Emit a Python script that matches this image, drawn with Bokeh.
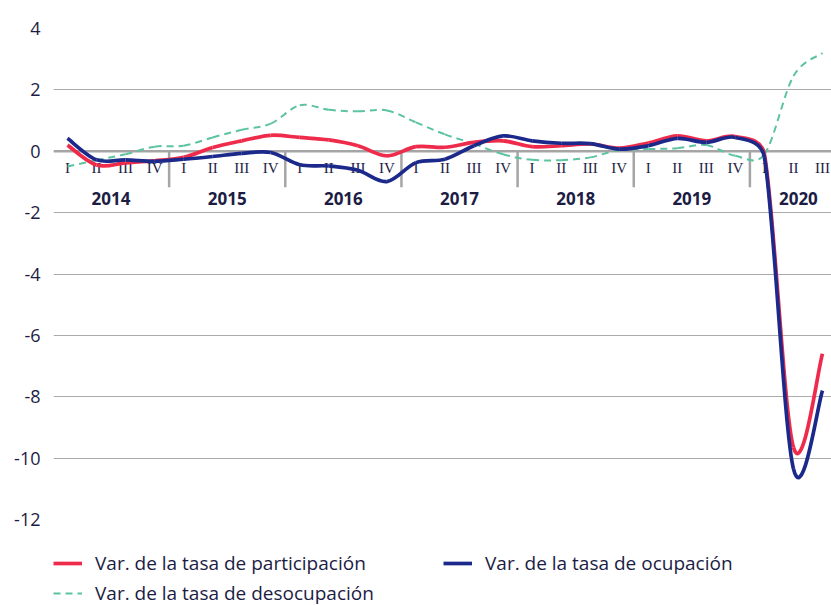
import math
from bokeh.plotting import figure
from bokeh.models import Range1d, FixedTicker, Span, Legend, LegendItem
from bokeh.core.properties import value
from bokeh.embed import file_html
from bokeh.resources import INLINE

# ---------------- data ----------------
years = ["2014", "2015", "2016", "2017", "2018", "2019", "2020"]
quarters = ["I", "II", "III", "IV"] * 6 + ["I", "II", "III"]
participacion = [0.2, -0.45, -0.38, -0.31, -0.2, 0.12, 0.34, 0.52, 0.45, 0.37, 0.18, -0.15,
                 0.15, 0.13, 0.29, 0.34, 0.15, 0.18, 0.24, 0.1, 0.27, 0.5, 0.34, 0.48,
                 -0.1, -9.65, -6.6]
ocupacion = [0.42, -0.28, -0.28, -0.33, -0.26, -0.17, -0.07, -0.04, -0.44, -0.48, -0.62, -0.99,
             -0.37, -0.26, 0.18, 0.5, 0.34, 0.26, 0.25, 0.07, 0.18, 0.42, 0.29, 0.45,
             -0.2, -10.35, -7.8]
desocupacion = [-0.5, -0.29, -0.1, 0.15, 0.18, 0.45, 0.7, 0.9, 1.5, 1.35, 1.3, 1.33,
                0.94, 0.55, 0.24, -0.1, -0.28, -0.29, -0.2, 0.04, 0.07, 0.1, 0.2, -0.15,
                -0.1, 2.45, 3.2]
y_ticks = [-12, -10, -8, -6, -4, -2, 0, 2, 4]
y_tick_labels = ["-12", "-10", "-8", "-6", "-4", "-2", "0", "2", "4"]

labels = ["Var. de la tasa de participación", "Var. de la tasa de ocupación",
          "Var. de la tasa de desocupación"]

# ---------------- styles ----------------
RED = "#EF2B4C"
BLUE = "#1B2A8A"
GREEN = "#5CC3A0"
TXT = "#1C1C44"
GRID = "#ABABAB"
AXISGRAY = "#A5A5A5"

X0, X1 = -0.482, 26.31
SX, SY = 29.04, 30.7   # approx. pixels per data unit (used only to shape the smoothing)

n = len(quarters)
xs = list(range(n))


def smooth_segments(vals):
    """Cubic Bezier segments through the data points (Excel-like smoothed line)."""
    P = [(xs[i] * SX, vals[i] * SY) for i in range(n)]
    Pe = [P[0]] + P + [P[-1]]
    T = [((Pe[i + 2][0] - Pe[i][0]) / 6.0, (Pe[i + 2][1] - Pe[i][1]) / 6.0) for i in range(n)]
    d = dict(x0=[], y0=[], x1=[], y1=[], cx0=[], cy0=[], cx1=[], cy1=[])
    for i in range(n - 1):
        L = math.hypot(P[i + 1][0] - P[i][0], P[i + 1][1] - P[i][1])
        lim = 0.5 * L

        def clamp(t):
            m = math.hypot(*t)
            f = min(1.0, lim / m) if m > 0 else 1.0
            return (t[0] * f, t[1] * f)
        a = clamp(T[i])
        b = clamp(T[i + 1])
        d["x0"].append(xs[i]); d["y0"].append(vals[i])
        d["x1"].append(xs[i + 1]); d["y1"].append(vals[i + 1])
        d["cx0"].append((P[i][0] + a[0]) / SX); d["cy0"].append((P[i][1] + a[1]) / SY)
        d["cx1"].append((P[i + 1][0] - b[0]) / SX); d["cy1"].append((P[i + 1][1] - b[1]) / SY)
    return d


p = figure(frame_width=778, frame_height=491,
           x_range=Range1d(X0, X1), y_range=Range1d(-12, 4),
           output_backend="svg", toolbar_location=None,
           x_axis_location=None,
           min_border_left=53, min_border_right=0, min_border_top=28, min_border_bottom=0)
p.outline_line_color = None
p.background_fill_color = "white"
p.xgrid.grid_line_color = None

ticker = FixedTicker(ticks=y_ticks)
p.yaxis.ticker = ticker
p.yaxis.major_label_overrides = {t: s for t, s in zip(y_ticks, y_tick_labels)}
p.yaxis.axis_line_color = None
p.yaxis.major_tick_line_color = None
p.yaxis.minor_tick_line_color = None
p.yaxis.major_label_text_font = "Open Sans"
p.yaxis.major_label_text_font_size = "18px"
p.yaxis.major_label_text_color = TXT
p.yaxis.major_label_standoff = 7
p.ygrid.ticker = ticker
p.ygrid.grid_line_color = GRID
p.ygrid.grid_line_width = 1

p.add_layout(Span(location=0, dimension="width", line_color=AXISGRAY, line_width=2.5,
                  level="underlay"))

# year separators
counts = [quarters[:i + 1].count("I") for i in range(n)]
sep_x = [i + 0.5 for i in range(n - 1) if quarters[i + 1] == "I"]
p.segment(x0=sep_x, y0=[0] * len(sep_x), x1=sep_x, y1=[-1.17] * len(sep_x),
          line_color=AXISGRAY, line_width=2.5)

# quarter labels
p.text(x=xs, y=[0] * n, text=quarters, text_align="center", text_baseline="middle",
       y_offset=17, text_font=value("Liberation Serif"), text_font_size="15px",
       text_color=TXT)

# year labels (last group continues past the visible edge)
year_x = []
for k, yv in enumerate(years):
    idx = [i for i in range(n) if counts[i] == k + 1]
    if len(idx) == 4:
        year_x.append(sum(idx) / 4.0)
    else:
        year_x.append(sum(idx) / len(idx) + 0.17)
p.text(x=year_x, y=[0] * len(years), text=years, text_align="center",
       text_baseline="middle", y_offset=47, text_font=value("Open Sans"),
       text_font_size="17px", text_font_style="bold", text_color=TXT)

# series
r_green = p.bezier(**smooth_segments(desocupacion), line_color=GREEN,
                   line_width=2, line_dash="7 5")
r_red = p.bezier(**smooth_segments(participacion), line_color=RED, line_width=3.7)
r_blue = p.bezier(**smooth_segments(ocupacion), line_color=BLUE, line_width=3.7)

legend = Legend(items=[LegendItem(label=labels[0], renderers=[r_red]),
                       LegendItem(label=labels[2], renderers=[r_green]),
                       LegendItem(label=labels[1], renderers=[r_blue])],
                location="top_left", orientation="vertical", ncols=2,
                title=" ", title_text_font_size="15px", title_standoff=14,
                padding=0, margin=0, spacing=4, label_height=26, glyph_height=26,
                glyph_width=29, label_standoff=13, label_width=344,
                label_text_font="Open Sans", label_text_font_size="19px",
                label_text_color=TXT, background_fill_alpha=0, border_line_color=None)
p.add_layout(legend, "below")

open("out.html", "w").write(file_html(p, INLINE))
